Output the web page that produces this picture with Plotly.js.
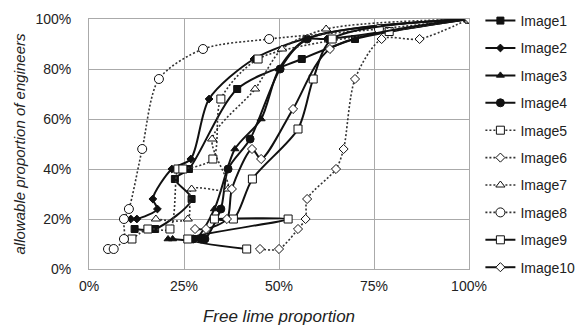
<!DOCTYPE html>
<html><head><meta charset="utf-8">
<script src="https://cdn.plot.ly/plotly-3.0.1.min.js"></script>
<style>html,body{margin:0;padding:0;background:#fff}#chart{width:577px;height:327px}</style>
</head><body><div id="chart"></div>
<script>
// Free lime proportion (%) and allowable proportion of engineers (%)
var names = ["Image1","Image2","Image3","Image4","Image5","Image6","Image7","Image8","Image9","Image10"];
var img1_x = [12, 17.4, 27, 22.6, 26.3, 39, 56, 70, 100];
var img1_y = [16, 16, 28, 36, 40, 72, 84, 92, 100];
var img2_x = [11, 12.6, 18, 16.8, 21.8, 26.8, 31.6, 43.4, 57, 62.6, 100];
var img2_y = [20, 20, 24, 28, 40, 44, 68, 84, 92, 92, 100];
var img3_x = [20.8, 22, 28, 33, 38.4, 45.3, 50, 57.4, 100];
var img3_y = [12, 12, 12, 24, 48, 60, 80, 92, 100];
var img4_x = [27.4, 29.5, 30.5, 34.7, 36.6, 42.4, 50.3, 57.4, 100];
var img4_y = [12, 12, 12, 24, 40, 52, 80, 92, 100];
var img5_x = [11.3, 15.5, 21.3, 23.4, 24.7, 32.6, 34.7, 44.5, 79, 100];
var img5_y = [12, 16, 16, 40, 40, 44, 68, 84, 95, 100];
var img6_x = [45, 50, 55, 57, 57.4, 65, 67, 70, 77, 87, 100];
var img6_y = [8, 8, 16, 20, 28, 40, 48, 76, 92, 92, 100];
var img7_x = [17.6, 26, 27, 36.6, 32.4, 43.7, 50.8, 62.4, 100];
var img7_y = [20, 20, 32, 32, 52, 72, 88, 96, 100];
var img8_x = [5, 6.5, 9.2, 9.2, 10.5, 14, 18.4, 30, 47.4, 76.3, 100];
var img8_y = [8, 8, 12, 20, 24, 48, 76, 88, 92, 96, 100];
var img9_x = [41.5, 26, 52.4, 33, 38, 43, 55, 59, 64, 100];
var img9_y = [8, 12, 20, 20, 20, 36, 56, 76, 92, 100];
var img10_x = [27.9, 30.8, 36.3, 37.6, 42.9, 45.3, 53.7, 63.4, 100];
var img10_y = [16, 16, 20, 32, 48, 44, 64, 88, 100];
var xTicks = [0, 25, 50, 75, 100];
var xTickText = ["0%", "25%", "50%", "75%", "100%"];
var yTicks = [0, 20, 40, 60, 80, 100];
var yTickText = ["0%", "20%", "40%", "60%", "80%", "100%"];

var xs = [img1_x,img2_x,img3_x,img4_x,img5_x,img6_x,img7_x,img8_x,img9_x,img10_x];
var ys = [img1_y,img2_y,img3_y,img4_y,img5_y,img6_y,img7_y,img8_y,img9_y,img10_y];
var styles = [
  {sym:"square", size:7, fill:"#111", dash:"solid"},
  {sym:"diamond", size:6, fill:"#111", dash:"solid"},
  {sym:"triangle-up", size:7, fill:"#111", dash:"solid"},
  {sym:"circle", size:8, fill:"#111", dash:"solid"},
  {sym:"square", size:8, fill:"#fff", dash:"dot"},
  {sym:"diamond", size:7, fill:"#fff", dash:"dot"},
  {sym:"triangle-up", size:8, fill:"#fff", dash:"dot"},
  {sym:"circle", size:9, fill:"#fff", dash:"dot"},
  {sym:"square", size:8, fill:"#fff", dash:"solid"},
  {sym:"diamond", size:7, fill:"#fff", dash:"solid"}
];
var traces = names.map(function(n,i){
  var s = styles[i];
  var dotted = s.dash === "dot";
  return {
    x: xs[i], y: ys[i], name: n, type: "scatter", mode: "lines+markers",
    legendgroup: n,
    line: {color: dotted ? "#333" : "#111", width: dotted ? 1.6 : 2, dash: dotted ? "2px,2px" : "solid", shape: "spline", smoothing: 0.8},
    marker: {symbol: s.sym, size: s.size, color: s.fill, line: {color: "#111", width: 1}}
  };
});
var font = {family: "Liberation Sans, Arial, sans-serif", size: 14, color: "#222"};
var layout = {
  width: 577, height: 327,
  margin: {l: 89, r: 108, t: 19, b: 58, autoexpand: false},
  paper_bgcolor: "#fff", plot_bgcolor: "#fff",
  font: font,
  showlegend: true,
  legend: {x: 1.03, y: 1.056, xanchor: "left", yanchor: "top", traceorder: "grouped", tracegroupgap: 6.2,
           maxheight: 327, font: {family: font.family, size: 14, color: "#222"}, itemwidth: 30, bgcolor: "rgba(0,0,0,0)"},
  xaxis: {range: [0, 100], tickvals: xTicks, ticktext: xTickText, showgrid: true, gridcolor: "#aaaaaa", gridwidth: 1,
          zeroline: false, showline: true, linecolor: "#aaaaaa", linewidth: 1, mirror: true, ticks: "", ticklabelstandoff: 4,
          title: {text: "<i>Free lime proportion</i>", font: {family: font.family, size: 17, color: "#222"}, standoff: 17}},
  yaxis: {range: [0, 100], tickvals: yTicks, ticktext: yTickText, showgrid: true, gridcolor: "#aaaaaa", gridwidth: 1,
          zeroline: false, showline: true, linecolor: "#aaaaaa", linewidth: 1, mirror: true, ticks: "", ticklabelstandoff: 14,
          title: {text: "<i>allowable proportion of engineers</i>", font: {family: font.family, size: 15, color: "#222"}, standoff: 6}}
};
Plotly.newPlot("chart", traces, layout, {staticPlot: true, displayModeBar: false});
</script></body></html>
